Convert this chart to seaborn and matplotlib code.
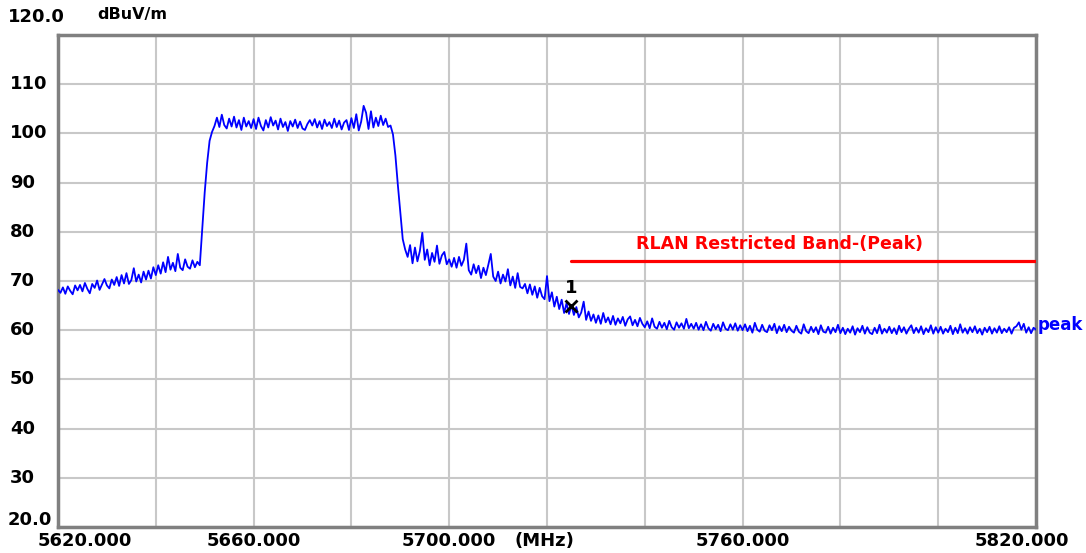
import numpy as np
import seaborn as sns
import matplotlib
matplotlib.use("Agg")
import matplotlib.pyplot as plt
import matplotlib.transforms as mtransforms

# Sweep settings (span 5620 - 5820 MHz, 0.5 MHz step)
f_start = 5620.0
f_stop = 5820.0
n_points = 401

level_dbuv = [
    68.2, 67.6, 68.7, 67.4, 68.9, 68.0, 67.3, 69.1, 68.1, 69.2, 67.9, 69.6, 68.4, 67.5, 69.4, 68.6, 70.1, 68.2, 69.3, 70.4,
    69.1, 68.5, 70.3, 69.2, 70.8, 69.0, 71.2, 69.5, 71.6, 69.4, 70.2, 72.6, 69.9, 71.3, 69.7, 71.9, 70.3, 72.1, 70.5, 72.8,
    71.2, 73.2, 71.5, 73.8, 71.8, 74.9, 72.3, 73.7, 72.0, 75.5, 72.7, 72.2, 74.4, 72.9, 72.5, 74.2, 72.8, 73.9, 73.2, 80.5,
    88.0, 94.0, 98.5, 100.3, 101.5, 103.2, 101.3, 103.8, 101.7, 101.0, 103.0, 101.4, 103.4, 101.2, 102.7, 100.7, 103.2, 101.4, 102.5, 101.1,
    102.9, 100.9, 103.2, 101.5, 100.6, 102.7, 101.2, 103.3, 101.6, 102.6, 100.8, 103.0, 101.3, 102.3, 100.5, 102.5, 101.4, 102.8, 101.1, 102.4,
    101.0, 100.7, 101.9, 102.7, 101.6, 102.9, 101.2, 102.5, 100.9, 102.8, 101.5, 102.3, 101.1, 103.0, 101.3, 102.6, 100.8, 102.2, 102.7, 100.7,
    103.1, 101.1, 103.9, 100.6, 102.4, 105.6, 104.2, 100.9, 104.5, 101.2, 103.2, 101.5, 103.6, 101.7, 103.0, 101.3, 101.6, 99.8, 95.5, 89.5,
    84.0, 78.5, 76.4, 74.9, 77.3, 73.6, 76.8, 74.0, 76.1, 79.8, 74.3, 76.4, 73.2, 75.7, 73.9, 77.2, 73.5, 75.2, 75.9, 73.4,
    74.4, 72.9, 74.7, 72.7, 74.9, 73.1, 74.3, 77.6, 72.2, 71.3, 73.4, 71.6, 73.1, 70.6, 72.7, 71.2, 73.3, 75.5, 70.9, 70.0,
    71.9, 69.5, 71.3, 69.9, 72.4, 69.1, 70.9, 68.6, 71.6, 68.8, 68.5, 69.4, 67.5, 69.3, 67.2, 68.9, 66.6, 68.6, 66.9, 66.3,
    71.0, 65.9, 67.7, 64.8, 66.8, 64.3, 66.2, 63.5, 65.5, 63.3, 65.1, 63.1, 64.7, 62.6, 63.6, 65.8, 62.1, 63.8, 61.9, 63.2,
    61.5, 63.0, 61.3, 63.5, 61.6, 62.6, 61.2, 62.9, 61.1, 62.4, 61.4, 62.7, 60.9, 62.2, 62.8, 61.0, 62.1, 60.8, 62.5, 61.3,
    60.6, 61.8, 60.4, 62.4, 60.7, 60.3, 61.7, 60.5, 61.5, 60.2, 61.9, 60.6, 60.1, 61.6, 60.5, 61.4, 60.3, 62.3, 60.4, 61.3,
    60.3, 61.5, 60.1, 61.2, 60.0, 61.7, 60.4, 59.9, 61.3, 60.2, 61.1, 59.8, 61.6, 60.3, 60.0, 61.2, 60.1, 61.4, 59.9, 61.0,
    60.0, 61.2, 59.8, 60.9, 59.5, 61.5, 60.1, 59.7, 61.1, 59.9, 59.6, 61.0, 60.0, 61.3, 59.4, 60.8, 59.8, 61.1, 59.6, 60.7,
    59.9, 59.5, 60.9, 59.7, 59.3, 61.2, 59.8, 59.4, 60.7, 59.6, 60.6, 59.2, 61.0, 59.7, 59.5, 60.7, 59.3, 60.5, 59.6, 61.1,
    59.4, 60.5, 59.2, 60.3, 59.5, 60.8, 59.1, 60.4, 59.6, 60.9, 59.3, 60.6, 59.5, 59.2, 60.5, 59.4, 61.1, 59.3, 60.3, 59.5,
    60.7, 59.4, 60.4, 59.2, 60.9, 59.6, 60.6, 59.3, 60.3, 61.0, 59.4, 60.5, 59.5, 60.8, 59.2, 60.4, 59.6, 61.0, 59.3, 60.6,
    59.5, 60.7, 59.3, 60.3, 59.6, 60.9, 59.2, 60.5, 59.4, 61.2, 59.5, 60.4, 59.3, 60.6, 59.6, 60.8, 59.4, 60.3, 59.1, 60.5,
    59.6, 60.7, 59.3, 60.4, 59.5, 60.8, 59.4, 60.3, 59.6, 60.6, 59.3, 60.5, 60.8, 61.6, 60.1, 61.3, 59.5, 60.6, 59.4, 60.5,
    60.1,
]

# Limit line
limit_start = 5725.0
limit_stop = 5820.0
limit_level = 74.0
limit_label = "RLAN Restricted Band-(Peak)"

# Marker 1
marker_freq = 5725.0
marker_level = 65.0
marker_label = "1"

trace_label = "peak"
y_unit = "dBuV/m"
y_labels = [30, 40, 50, 60, 70, 80, 90, 100, 110]

freq = np.linspace(f_start, f_stop, n_points)
assert len(level_dbuv) == n_points

sns.set_style("white")
plt.rcParams["font.family"] = ["DejaVu Sans"]
plt.rcParams["font.weight"] = "bold"
plt.rcParams["text.color"] = "black"

W, H = 1086, 553
fig = plt.figure(figsize=(W / 100, H / 100), dpi=100)
ax = fig.add_axes([58 / W, 1 - 527 / H, (1036 - 58) / W, (527 - 35) / H])

# grid
ax.set_xlim(f_start, f_stop)
ax.set_ylim(20, 120)
ax.set_xticks(np.arange(f_start, f_stop + 1, 20))
ax.set_yticks(np.arange(20, 121, 10))
ax.tick_params(length=0, labelbottom=False, labelleft=False)
ax.grid(True, color="#c8c8c8", lw=1.5)
ax.set_axisbelow(True)
for s in ax.spines.values():
    s.set_color("#808080")
    s.set_linewidth(2.5)

# trace
sns.lineplot(x=freq, y=level_dbuv, color="#0000ff", lw=1.3, ax=ax, zorder=3)

# limit line
sns.lineplot(x=[limit_start, limit_stop], y=[limit_level, limit_level],
             color="#ff0000", lw=2.3, ax=ax, zorder=4)
ax.text(5767.5, 77.6, limit_label, color="#ff0000", fontsize=12.5,
        fontweight="bold", ha="center", va="center")

# marker
ax.plot(marker_freq, marker_level, marker="x", color="black", ms=9, mew=2, zorder=5)
ax.text(marker_freq, marker_level + 3.6, marker_label, color="black", fontsize=13,
        fontweight="bold", ha="center", va="center")

# trace name at right edge
tr_r = mtransforms.blended_transform_factory(ax.transAxes, ax.transData)
ax.text(1.002, 61.0, trace_label, transform=tr_r, color="#0000ff", fontsize=12,
        fontweight="bold", ha="left", va="center")

# y labels
tr_y = mtransforms.blended_transform_factory(fig.transFigure, ax.transData)
for v in y_labels:
    ax.text(10 / W, v, str(v), transform=tr_y, fontsize=13, fontweight="bold",
            ha="left", va="center")
fig.text(8 / W, 1 - 17 / H, "120.0", fontsize=13, fontweight="bold", ha="left", va="center")
fig.text(8 / W, 1 - 520 / H, "20.0", fontsize=13, fontweight="bold", ha="left", va="center")
fig.text(97 / W, 1 - 15 / H, y_unit, fontsize=11.5, fontweight="bold", ha="left", va="center")

# x labels
tr_x = mtransforms.blended_transform_factory(ax.transData, fig.transFigure)
ylab = 1 - 541 / H
fig.text(85 / W, ylab, "5620.000", fontsize=13, fontweight="bold", ha="center", va="center")
for f in [5660, 5700, 5760]:
    ax.text(f, ylab, f"{f:.3f}", transform=tr_x, fontsize=13, fontweight="bold",
            ha="center", va="center")
fig.text(515 / W, ylab, "(MHz)", fontsize=13, fontweight="bold", ha="left", va="center")
fig.text(1022 / W, ylab, "5820.000", fontsize=13, fontweight="bold", ha="center", va="center")

fig.savefig("out.png", dpi=100, facecolor="white")
